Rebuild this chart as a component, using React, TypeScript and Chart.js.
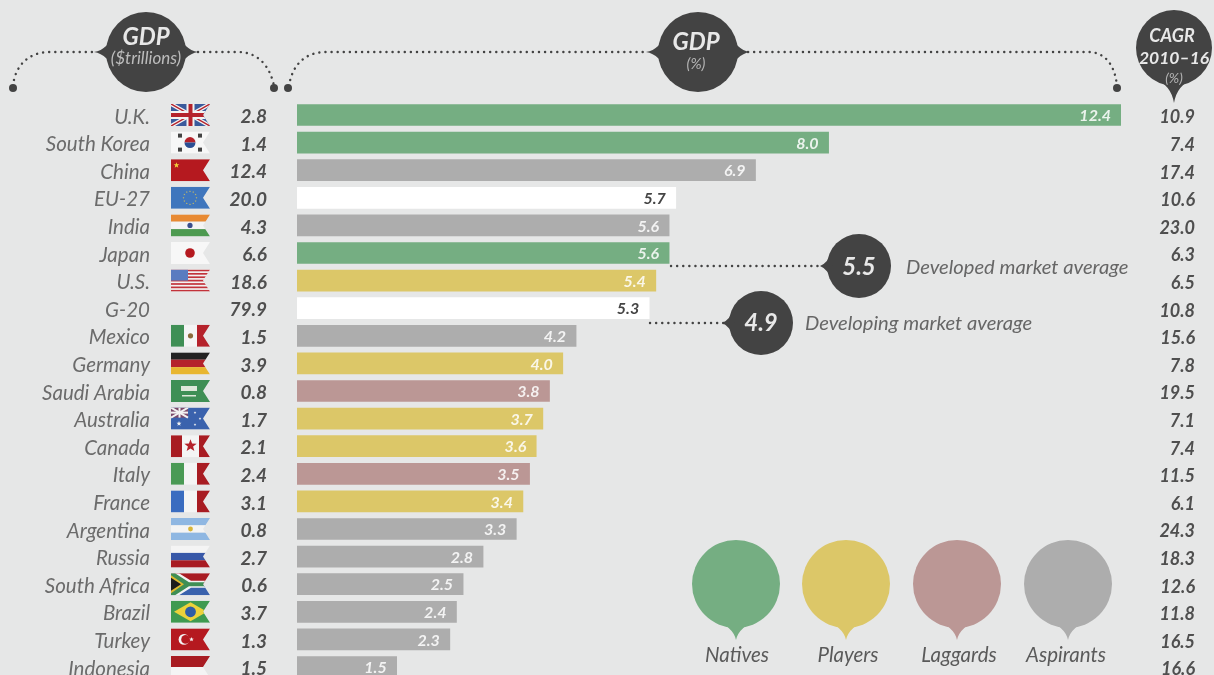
import React, { useEffect, useRef } from "react";
import { Chart, registerables } from "chart.js";

Chart.register(...registerables);

const countries = ["U.K.", "South Korea", "China", "EU-27", "India", "Japan", "U.S.", "G-20", "Mexico", "Germany", "Saudi Arabia", "Australia", "Canada", "Italy", "France", "Argentina", "Russia", "South Africa", "Brazil", "Turkey", "Indonesia"];
const gdpTrillions = ["2.8", "1.4", "12.4", "20.0", "4.3", "6.6", "18.6", "79.9", "1.5", "3.9", "0.8", "1.7", "2.1", "2.4", "3.1", "0.8", "2.7", "0.6", "3.7", "1.3", "1.5"];
const gdpPercent = [12.4, 8.0, 6.9, 5.7, 5.6, 5.6, 5.4, 5.3, 4.2, 4.0, 3.8, 3.7, 3.6, 3.5, 3.4, 3.3, 2.8, 2.5, 2.4, 2.3, 1.5];
const cagr = ["10.9", "7.4", "17.4", "10.6", "23.0", "6.3", "6.5", "10.8", "15.6", "7.8", "19.5", "7.1", "7.4", "11.5", "6.1", "24.3", "18.3", "12.6", "11.8", "16.5", "16.6"];
const groups = ["N", "N", "A", "T", "A", "N", "P", "T", "A", "P", "L", "P", "P", "L", "P", "A", "A", "A", "A", "A", "A"];
const legendNames = ["Natives", "Players", "Laggards", "Aspirants"];

const GREEN = "#75ae82";
const YELLOW = "#dcc768";
const PINK = "#bb9795";
const GREY = "#adadad";
const DARK = "#434343";
const BG = "#e6e7e7";
const groupColors: Record<string, string> = { N: GREEN, P: YELLOW, L: PINK, A: GREY, T: "#ffffff" };
const legendColors = [GREEN, YELLOW, PINK, GREY];

const FONT = "Lato, 'Open Sans', sans-serif";

type Ctx = CanvasRenderingContext2D;

function dottedPath(ctx: Ctx, draw: () => void) {
  ctx.save();
  ctx.strokeStyle = DARK;
  ctx.lineWidth = 2.4;
  ctx.lineCap = "round";
  ctx.setLineDash([0.1, 6]);
  ctx.beginPath();
  draw();
  ctx.stroke();
  ctx.restore();
}

function dot(ctx: Ctx, x: number, y: number, r = 4) {
  ctx.fillStyle = DARK;
  ctx.beginPath();
  ctx.arc(x, y, r, 0, Math.PI * 2);
  ctx.fill();
}

// Disc with small pointed ears on the left and right, as used for the column headers.
function earedDisc(ctx: Ctx, cx: number, cy: number, r: number, ear: number) {
  ctx.fillStyle = DARK;
  ctx.beginPath();
  ctx.arc(cx, cy, r, 0, Math.PI * 2);
  ctx.fill();
  ctx.beginPath();
  ctx.moveTo(cx - r - ear, cy);
  ctx.quadraticCurveTo(cx - r + 2, cy - 2, cx - r + 10, cy - 22);
  ctx.lineTo(cx - r + 10, cy + 22);
  ctx.quadraticCurveTo(cx - r + 2, cy + 2, cx - r - ear, cy);
  ctx.moveTo(cx + r + ear, cy);
  ctx.quadraticCurveTo(cx + r - 2, cy - 2, cx + r - 10, cy - 22);
  ctx.lineTo(cx + r - 10, cy + 22);
  ctx.quadraticCurveTo(cx + r - 2, cy + 2, cx + r + ear, cy);
  ctx.fill();
}

// Map pin: disc with a short pointed tip under it.
function pin(ctx: Ctx, cx: number, cy: number, r: number, tipY: number, color: string) {
  ctx.fillStyle = color;
  ctx.beginPath();
  ctx.arc(cx, cy, r, 0, Math.PI * 2);
  ctx.fill();
  const base = cy + r * 0.82;
  ctx.beginPath();
  ctx.moveTo(cx - r * 0.5, base);
  ctx.quadraticCurveTo(cx - 3, base + r * 0.15, cx, tipY);
  ctx.quadraticCurveTo(cx + 3, base + r * 0.15, cx + r * 0.5, base);
  ctx.closePath();
  ctx.fill();
}

// Bubble with a point on its left, used for the market averages.
function leftPointBubble(ctx: Ctx, cx: number, cy: number, r: number, tipX: number) {
  ctx.fillStyle = DARK;
  ctx.beginPath();
  ctx.arc(cx, cy, r, 0, Math.PI * 2);
  ctx.fill();
  const base = cx - r * 0.82;
  ctx.beginPath();
  ctx.moveTo(base, cy - r * 0.5);
  ctx.quadraticCurveTo(base - r * 0.15, cy - 3, tipX, cy);
  ctx.quadraticCurveTo(base - r * 0.15, cy + 3, base, cy + r * 0.5);
  ctx.closePath();
  ctx.fill();
}

function rect(ctx: Ctx, c: string, x: number, y: number, w: number, h: number) {
  ctx.fillStyle = c;
  ctx.fillRect(x, y, w, h);
}

function star(ctx: Ctx, cx: number, cy: number, r: number, c: string) {
  ctx.fillStyle = c;
  ctx.beginPath();
  for (let i = 0; i < 10; i++) {
    const a = -Math.PI / 2 + (i * Math.PI) / 5;
    const rr = i % 2 ? r * 0.42 : r;
    ctx.lineTo(cx + Math.cos(a) * rr, cy + Math.sin(a) * rr);
  }
  ctx.closePath();
  ctx.fill();
}

const FW = 39;
const FH = 22;

function line(ctx: Ctx, c: string, w: number, x1: number, y1: number, x2: number, y2: number) {
  ctx.strokeStyle = c;
  ctx.lineWidth = w;
  ctx.beginPath();
  ctx.moveTo(x1, y1);
  ctx.lineTo(x2, y2);
  ctx.stroke();
}

// Each flag is painted in a FW x FH box at the origin.
const flagPainters: Record<string, (c: Ctx) => void> = {
  "U.K.": (c) => {
    rect(c, "#3a5a9c", 0, 0, FW, FH);
    line(c, "#f2f2f2", 4, 0, 0, FW, FH);
    line(c, "#f2f2f2", 4, FW, 0, 0, FH);
    line(c, "#b5222b", 1.5, 0, 0, FW, FH);
    line(c, "#b5222b", 1.5, FW, 0, 0, FH);
    rect(c, "#f2f2f2", 15.5, 0, 8, FH);
    rect(c, "#f2f2f2", 0, 7, FW, 8);
    rect(c, "#b5222b", 17.5, 0, 4, FH);
    rect(c, "#b5222b", 0, 9, FW, 4);
  },
  "South Korea": (c) => {
    rect(c, "#f7f7f7", 0, 0, FW, FH);
    c.fillStyle = "#b5222b";
    c.beginPath();
    c.arc(19, 11, 5.5, Math.PI, 0);
    c.fill();
    c.fillStyle = "#2c4f94";
    c.beginPath();
    c.arc(19, 11, 5.5, 0, Math.PI);
    c.fill();
    for (const [x, y] of [[9, 4], [29, 4], [9, 18], [29, 18]]) {
      rect(c, "#444", x - 2, y - 2, 4, 4);
    }
  },
  China: (c) => {
    rect(c, "#b5191f", 0, 0, FW, FH);
    star(c, 5.5, 6, 3, "#f2cf3a");
  },
  "EU-27": (c) => {
    rect(c, "#3f76bd", 0, 0, FW, FH);
    for (let i = 0; i < 12; i++) {
      const a = (i * Math.PI) / 6;
      star(c, 19 + Math.cos(a) * 6.5, 11 + Math.sin(a) * 6.5, 1, "#d6c25a");
    }
  },
  India: (c) => {
    rect(c, "#e88a33", 0, 0, FW, 7.3);
    rect(c, "#f4f4f4", 0, 7.3, FW, 7.4);
    rect(c, "#4d9a50", 0, 14.7, FW, 7.3);
    c.fillStyle = "#3b4f8c";
    c.beginPath();
    c.arc(19, 11, 2.6, 0, Math.PI * 2);
    c.fill();
  },
  Japan: (c) => {
    rect(c, "#f7f7f7", 0, 0, FW, FH);
    c.fillStyle = "#b5191f";
    c.beginPath();
    c.arc(19, 11, 4.8, 0, Math.PI * 2);
    c.fill();
  },
  "U.S.": (c) => {
    rect(c, "#f2f2f2", 0, 0, FW, FH);
    for (let i = 0; i < 7; i++) rect(c, "#c2333b", 0, (i * 2 * FH) / 13, FW, FH / 13);
    rect(c, "#5a7cc0", 0, 0, 17, 11);
  },
  "G-20": () => {},
  Mexico: (c) => {
    rect(c, "#3f8f55", 0, 0, 13, FH);
    rect(c, "#f4f4f4", 13, 0, 13, FH);
    rect(c, "#b5222b", 26, 0, 13, FH);
    c.fillStyle = "#8a6a3a";
    c.beginPath();
    c.arc(19.5, 11, 2.6, 0, Math.PI * 2);
    c.fill();
  },
  Germany: (c) => {
    rect(c, "#222", 0, 0, FW, 7.3);
    rect(c, "#b5222b", 0, 7.3, FW, 7.4);
    rect(c, "#e8b630", 0, 14.7, FW, 7.3);
  },
  "Saudi Arabia": (c) => {
    rect(c, "#3f8f55", 0, 0, FW, FH);
    rect(c, "#dfe8da", 10, 6, 16, 5);
    rect(c, "#dfe8da", 11, 15, 14, 1.5);
  },
  Australia: (c) => {
    rect(c, "#3a62ad", 0, 0, FW, FH);
    rect(c, "#7c4a6a", 0, 0, 17, 10);
    line(c, "#f2f2f2", 2, 0, 0, 17, 10);
    line(c, "#f2f2f2", 2, 17, 0, 0, 10);
    rect(c, "#f2f2f2", 0, 4, 17, 2);
    rect(c, "#f2f2f2", 7.5, 0, 2, 10);
    star(c, 8, 16, 2.6, "#f2f2f2");
    star(c, 24, 5, 1.4, "#f2f2f2");
    star(c, 29, 11, 1.4, "#f2f2f2");
    star(c, 24, 17, 1.4, "#f2f2f2");
  },
  Canada: (c) => {
    rect(c, "#f4f4f4", 0, 0, FW, FH);
    rect(c, "#a81c22", 0, 0, 11, FH);
    rect(c, "#a81c22", 28, 0, 11, FH);
    star(c, 19.5, 10.5, 6.5, "#b5222b");
  },
  Italy: (c) => {
    rect(c, "#4a9a55", 0, 0, 13, FH);
    rect(c, "#f4f4f4", 13, 0, 13, FH);
    rect(c, "#a81c22", 26, 0, 13, FH);
  },
  France: (c) => {
    rect(c, "#3a6cc0", 0, 0, 13, FH);
    rect(c, "#f4f4f4", 13, 0, 13, FH);
    rect(c, "#a81c22", 26, 0, 13, FH);
  },
  Argentina: (c) => {
    rect(c, "#8fb7e2", 0, 0, FW, 7.3);
    rect(c, "#f4f4f4", 0, 7.3, FW, 7.4);
    rect(c, "#8fb7e2", 0, 14.7, FW, 7.3);
    c.fillStyle = "#d8b53a";
    c.beginPath();
    c.arc(19.5, 11, 2.4, 0, Math.PI * 2);
    c.fill();
  },
  Russia: (c) => {
    rect(c, "#f4f4f4", 0, 0, FW, 7.3);
    rect(c, "#3858a8", 0, 7.3, FW, 7.4);
    rect(c, "#a81c22", 0, 14.7, FW, 7.3);
  },
  "South Africa": (c) => {
    rect(c, "#a81c22", 0, 0, FW, 11);
    rect(c, "#3a62ad", 0, 11, FW, 11);
    c.fillStyle = "#f2f2f2";
    c.beginPath();
    c.moveTo(0, 0);
    c.lineTo(8, 0);
    c.lineTo(20, 7.5);
    c.lineTo(FW, 7.5);
    c.lineTo(FW, 14.5);
    c.lineTo(20, 14.5);
    c.lineTo(8, 22);
    c.lineTo(0, 22);
    c.closePath();
    c.fill();
    c.fillStyle = "#3f8f55";
    c.beginPath();
    c.moveTo(0, 0);
    c.lineTo(4, 0);
    c.lineTo(18, 9);
    c.lineTo(FW, 9);
    c.lineTo(FW, 13);
    c.lineTo(18, 13);
    c.lineTo(4, 22);
    c.lineTo(0, 22);
    c.closePath();
    c.fill();
    c.fillStyle = "#e0b92e";
    c.beginPath();
    c.moveTo(0, 2);
    c.lineTo(13, 11);
    c.lineTo(0, 20);
    c.closePath();
    c.fill();
    c.fillStyle = "#1c1c1c";
    c.beginPath();
    c.moveTo(0, 4.5);
    c.lineTo(10, 11);
    c.lineTo(0, 17.5);
    c.closePath();
    c.fill();
  },
  Brazil: (c) => {
    rect(c, "#3f9a50", 0, 0, FW, FH);
    c.fillStyle = "#ecd23a";
    c.beginPath();
    c.moveTo(19.5, 1.5);
    c.lineTo(36, 11);
    c.lineTo(19.5, 20.5);
    c.lineTo(3, 11);
    c.closePath();
    c.fill();
    c.fillStyle = "#2f5da5";
    c.beginPath();
    c.arc(19.5, 11, 5.4, 0, Math.PI * 2);
    c.fill();
  },
  Turkey: (c) => {
    rect(c, "#b5191f", 0, 0, FW, FH);
    c.fillStyle = "#f4f4f4";
    c.beginPath();
    c.arc(13, 11, 5.4, 0, Math.PI * 2);
    c.fill();
    c.fillStyle = "#b5191f";
    c.beginPath();
    c.arc(14.6, 11, 4.4, 0, Math.PI * 2);
    c.fill();
    star(c, 20.5, 11, 2.4, "#f4f4f4");
  },
  Indonesia: (c) => {
    rect(c, "#a81c22", 0, 0, FW, 11);
    rect(c, "#f4f4f4", 0, 11, FW, 11);
  },
};

// Pennant outline: a rectangle with a V cut in its right edge.
function drawFlag(ctx: Ctx, name: string, x: number, y: number) {
  const paint = flagPainters[name];
  ctx.save();
  ctx.translate(x, y);
  ctx.beginPath();
  ctx.moveTo(0, 0);
  ctx.lineTo(FW, 0);
  ctx.lineTo(FW - 7, FH / 2);
  ctx.lineTo(FW, FH);
  ctx.lineTo(0, FH);
  ctx.closePath();
  ctx.clip();
  paint(ctx);
  ctx.restore();
}

function txt(ctx: Ctx, s: string, x: number, y: number, font: string, color: string, align: CanvasTextAlign = "center") {
  ctx.font = font;
  ctx.fillStyle = color;
  ctx.textAlign = align;
  ctx.textBaseline = "middle";
  ctx.fillText(s, x, y);
}

// Column headers, brackets, flags, side columns, averages and legend pins.
const decorations = {
  id: "decorations",
  beforeDatasetsDraw(chart: Chart) {
    const ctx = chart.ctx;
    const y = chart.scales.y;
    ctx.save();

    // Dotted brackets over the columns.
    dottedPath(ctx, () => {
      ctx.moveTo(13, 86);
      ctx.bezierCurveTo(15, 66, 28, 52, 50, 52);
      ctx.lineTo(96, 52);
    });
    dottedPath(ctx, () => {
      ctx.moveTo(198, 52);
      ctx.lineTo(238, 52);
      ctx.bezierCurveTo(258, 52, 270, 66, 274, 86);
    });
    dottedPath(ctx, () => {
      ctx.moveTo(289, 86);
      ctx.bezierCurveTo(292, 66, 304, 52, 326, 52);
      ctx.lineTo(646, 52);
    });
    dottedPath(ctx, () => {
      ctx.moveTo(748, 52);
      ctx.lineTo(1090, 52);
      ctx.bezierCurveTo(1106, 53, 1115, 66, 1117, 86);
    });
    dot(ctx, 13, 88);
    dot(ctx, 274, 88);
    dot(ctx, 288, 88);
    dot(ctx, 1117, 88);

    earedDisc(ctx, 146, 52, 40, 12);
    earedDisc(ctx, 698, 52, 40, 12);
    txt(ctx, "GDP", 146, 37, `italic bold 24px ${FONT}`, "#e8e8e8");
    txt(ctx, "($trillions)", 146, 59, `italic 17px ${FONT}`, "#bdbdbd");
    txt(ctx, "GDP", 696, 42, `italic bold 24px ${FONT}`, "#e8e8e8");
    txt(ctx, "(%)", 696, 64, `italic 15px ${FONT}`, "#b5b5b5");

    pin(ctx, 1174, 48, 38, 103, DARK);
    txt(ctx, "CAGR", 1172, 36, `italic bold 18px ${FONT}`, "#e8e8e8");
    txt(ctx, "2010–16", 1174, 58, `italic bold 17.5px ${FONT}`, "#e8e8e8");
    txt(ctx, "(%)", 1174, 78, `italic 14px ${FONT}`, "#b5b5b5");

    countries.forEach((name, i) => {
      const cy = y.getPixelForValue(i);
      drawFlag(ctx, name, 171, cy - FH / 2);
      txt(ctx, gdpTrillions[i], 267, cy + 2, `italic bold 19px ${FONT}`, "#4f4f4f", "right");
      txt(ctx, cagr[i], 1195, cy + 2.5, `italic bold 18px ${FONT}`, "#4f4f4f", "right");
    });

    // Market averages with their leader lines.
    dottedPath(ctx, () => {
      ctx.moveTo(671, 266);
      ctx.lineTo(824, 266);
    });
    dottedPath(ctx, () => {
      ctx.moveTo(650, 323);
      ctx.lineTo(726, 323);
    });
    leftPointBubble(ctx, 859, 266, 32, 820);
    leftPointBubble(ctx, 761, 323, 32, 722);
    txt(ctx, "5.5", 859, 267, `italic bold 24px ${FONT}`, "#e8e8e8");
    txt(ctx, "4.9", 761, 323, `italic bold 24px ${FONT}`, "#e8e8e8");
    txt(ctx, "Developed market average", 906, 267, `italic 20.2px ${FONT}`, "#666", "left");
    txt(ctx, "Developing market average", 805, 323, `italic 20.2px ${FONT}`, "#666", "left");

    // Legend pins.
    const pinX = [736, 846, 957, 1068];
    const labelX = [737, 848, 959, 1066];
    legendNames.forEach((name, i) => {
      pin(ctx, pinX[i], 584, 44, 640, legendColors[i]);
      txt(ctx, name, labelX[i], 655, `italic 20.5px ${FONT}`, "#5a5a5a");
    });

    ctx.restore();
  },
  afterDatasetsDraw(chart: Chart) {
    const ctx = chart.ctx;
    const meta = chart.getDatasetMeta(0);
    ctx.save();
    meta.data.forEach((bar: any, i: number) => {
      const white = groups[i] === "T";
      const color = white ? "#444" : "rgba(255,255,255,0.85)";
      txt(ctx, gdpPercent[i].toFixed(1), bar.x - 10, bar.y + 1, `italic bold 16px ${FONT}`, color, "right");
    });
    ctx.restore();
  },
};

export default function App() {
  const ref = useRef<HTMLCanvasElement>(null);

  useEffect(() => {
    const chart = new Chart(ref.current!, {
      type: "bar",
      data: {
        labels: countries,
        datasets: [
          {
            data: gdpPercent,
            backgroundColor: groups.map((g) => groupColors[g]),
            barThickness: 21,
          },
        ],
      },
      options: {
        indexAxis: "y",
        responsive: false,
        animation: false,
        events: [],
        layout: { padding: { top: 101.2, right: 93, bottom: 19.2, left: 0 } },
        plugins: { legend: { display: false }, tooltip: { enabled: false } },
        scales: {
          x: { display: false, min: 0, max: 12.4 },
          y: {
            // The tick padding sets the gap between country names and bars; it must not eat into the plot height.
            afterFit(scale: any) {
              scale.width = 297;
              scale.paddingTop = 0;
              scale.paddingBottom = 0;
            },
            border: { display: false },
            grid: { display: false, drawTicks: false },
            ticks: {
              autoSkip: false,
              padding: 147,
              labelOffset: 2,
              color: "#6b6b6b",
              font: { family: FONT, style: "italic", size: 20.5 },
            },
          },
        },
      },
      plugins: [decorations],
    });
    return () => chart.destroy();
  }, []);

  return (
    <div style={{ position: "fixed", left: 0, top: 0, width: 1214, height: 675, overflow: "hidden", background: BG }}>
      <canvas ref={ref} width={1214} height={700} style={{ display: "block" }} />
    </div>
  );
}
